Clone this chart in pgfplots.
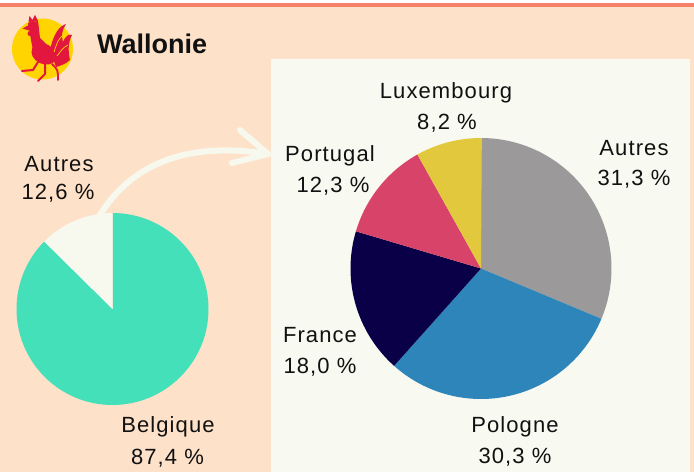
\documentclass[border=0pt]{standalone}
\usepackage{pgfplots}
\pgfplotsset{compat=1.18}
\usepackage{pgfplotstable}
\usepackage{fontspec}
\setmainfont{Liberation Sans}
\newfontfamily\lblfont[LetterSpace=5]{Liberation Sans}

\definecolor{peach}{HTML}{FEE1C9}
\definecolor{panel}{HTML}{F8F9F0}
\definecolor{topline}{HTML}{F6816A}
\definecolor{pteal}{HTML}{43E0BA}
\definecolor{poff}{HTML}{F8F9EE}
\definecolor{pgray}{HTML}{9B999A}
\definecolor{pblue}{HTML}{2E85BA}
\definecolor{pnavy}{HTML}{0A0048}
\definecolor{ppink}{HTML}{D8436A}
\definecolor{pyellow}{HTML}{E1C83C}
\definecolor{logoy}{HTML}{FFD400}
\definecolor{logor}{HTML}{E3163D}
\definecolor{txt}{HTML}{111111}

% shares, clockwise from the top
\pgfplotstableread{
pct  col
87.4 pteal
12.6 poff
}\leftdata
\pgfplotstableread{
pct  col
31.3 pgray
30.3 pblue
18.0 pnavy
12.3 ppink
8.2  pyellow
}\rightdata

\newcommand{\drawpie}[2]{%
  \pgfplotstablegetrowsof{#1}\pgfmathtruncatemacro\nrows{\pgfplotsretval-1}%
  \gdef\cum{0}%
  \foreach \i in {0,...,\nrows}{%
    \pgfplotstablegetelem{\i}{pct}\of{#1}\let\p\pgfplotsretval
    \pgfplotstablegetelem{\i}{col}\of{#1}\let\c\pgfplotsretval
    \pgfmathsetmacro\sa{90-3.6*\cum}%
    \pgfmathsetmacro\ea{90-3.6*(\cum+\p)}%
    \edef\tmp{\noexpand\fill[\c] (axis cs:0,0) -- (axis cs:{cos(\sa)},{sin(\sa)}) arc[start angle=\sa, end angle=\ea, radius=#2] -- cycle;}%
    \tmp
    \pgfmathsetmacro\nc{\cum+\p}\global\let\cum\nc
  }%
}

\tikzset{lbl/.style={anchor=base, inner sep=0pt, text=txt, font=\lblfont\fontsize{22}{26}\selectfont}}

\begin{document}
\begin{tikzpicture}[x=1pt, y=1pt]
  % background
  \fill[peach] (0,0) rectangle (694,472);
  \fill[white] (0,468) rectangle (694,472);
  \fill[topline] (0,465) rectangle (694,468.5);
  \fill[panel] (271,0) rectangle (690,413);

  % logo
  \fill[logoy] (42.5,423) circle (30.5);
  \fill[logor] (44,418) ellipse [x radius=13, y radius=10, rotate=-25];
  \fill[logor] (28,449) -- (38,451) -- (40,434) -- (50,424) -- (34,416) -- (31,432) -- cycle;
  \fill[logor] (33,446) circle (5);
  \fill[logor] (29,447) -- (22.5,443.5) -- (29,441.5) -- cycle;
  \fill[logor] (28.5,450) -- (29.5,456) -- (32.5,452) -- (35,457) -- (38,451) -- cycle;
  \fill[logor] (30,438.5) circle (2.5);
  \fill[logor] (50,422) .. controls (54,440) and (60,446) .. (66,448)
    .. controls (62,442) and (61,436) .. (63,430) .. controls (66,437) and (69,438) .. (72,437)
    .. controls (68,430) and (68,420) .. (70,412) .. controls (66,408) and (60,406) .. (56,405) -- cycle;
  \draw[logoy, line width=0.7] (54,420) .. controls (58,432) .. (64,438);
  \draw[logoy, line width=0.7] (57,416) .. controls (63,424) .. (68,427);
  \draw[logor, line width=1.8, line cap=round] (52,408) .. controls (58,402) .. (58,392);
  \draw[logor, line width=2, line cap=round, line join=round] (38,410) -- (33,402) -- (22,401);
  \draw[logor, line width=2, line cap=round, line join=round] (45,409) -- (45,398) -- (38,391);

  \node[anchor=base west, inner sep=0pt, text=txt, font=\fontsize{27}{30}\bfseries\selectfont] at (97,418) {Wallonie};

  % arrow
  \draw[poff, line width=6, line cap=round] (100,257) to[out=58, in=171] (268,318);
  \draw[poff, line width=6, line cap=round, line join=round] (240,342) -- (268,318) -- (232,309);

  % left pie
  \begin{axis}[at={(112.5pt,163pt)}, anchor=center, scale only axis,
    width=192pt, height=192pt, xmin=-1, xmax=1, ymin=-1, ymax=1,
    hide axis, clip=false]
    \drawpie{\leftdata}{96pt}
  \end{axis}

  % right pie
  \begin{axis}[at={(481pt,203.5pt)}, anchor=center, scale only axis,
    width=261pt, height=261pt, xmin=-1, xmax=1, ymin=-1, ymax=1,
    hide axis, clip=false]
    \drawpie{\rightdata}{130.5pt}
  \end{axis}

  % labels
  \node[lbl] at (59,300) {Autres};
  \node[lbl] at (58,272) {12,6 \%};
  \node[lbl] at (168,40) {Belgique};
  \node[lbl] at (167.5,8) {87,4 \%};
  \node[lbl] at (446,373) {Luxembourg};
  \node[lbl] at (447,342) {8,2 \%};
  \node[lbl] at (330,310) {Portugal};
  \node[lbl] at (333,279) {12,3 \%};
  \node[lbl] at (634,316) {Autres};
  \node[lbl] at (634,286) {31,3 \%};
  \node[lbl] at (320,130) {France};
  \node[lbl] at (320,99) {18,0 \%};
  \node[lbl] at (515,40) {Pologne};
  \node[lbl] at (515,9) {30,3 \%};
\end{tikzpicture}
\end{document}
